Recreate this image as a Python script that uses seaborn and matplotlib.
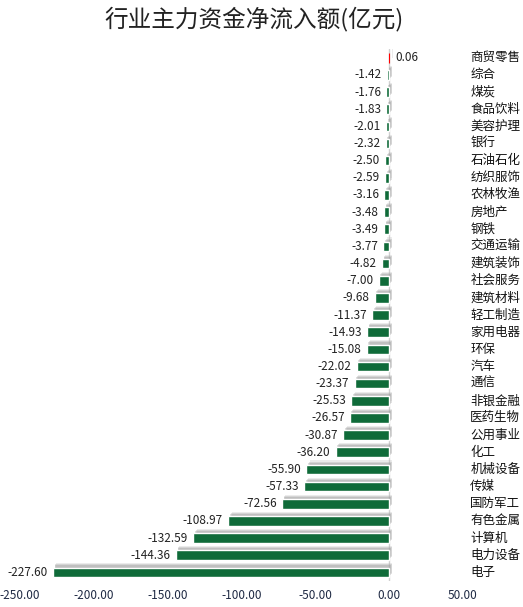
import numpy as np
import pandas as pd
import matplotlib
matplotlib.use("Agg")
import matplotlib.pyplot as plt
import matplotlib.patheffects as pe
import seaborn as sns


industries = [
    "商贸零售", "综合", "煤炭", "食品饮料", "美容护理", "银行", "石油石化",
    "纺织服饰", "农林牧渔", "房地产", "钢铁", "交通运输", "建筑装饰",
    "社会服务", "建筑材料", "轻工制造", "家用电器", "环保", "汽车", "通信",
    "非银金融", "医药生物", "公用事业", "化工", "机械设备", "传媒",
    "国防军工", "有色金属", "计算机", "电力设备", "电子"
]

net_inflow = [
    0.06, -1.42, -1.76, -1.83, -2.01, -2.32, -2.50,
    -2.59, -3.16, -3.48, -3.49, -3.77, -4.82,
    -7.00, -9.68, -11.37, -14.93, -15.08, -22.02, -23.37,
    -25.53, -26.57, -30.87, -36.20, -55.90, -57.33,
    -72.56, -108.97, -132.59, -144.36, -227.60
]

x_ticks = [-250, -200, -150, -100, -50, 0, 50]


sns.set_style("white")
plt.rcParams['font.family'] = ['Noto Sans CJK SC', 'DejaVu Sans']

df = pd.DataFrame({"industry": industries, "value": net_inflow})
df["sign"] = np.where(df["value"] >= 0, "pos", "neg")

fig = plt.figure(figsize=(5.23, 6.07), dpi=100)
ax = fig.add_axes([0.038, 0.043, 0.847, 0.876])

sns.barplot(
    data=df,
    x="value",
    y="industry",
    hue="sign",
    palette={"pos": "#ff0000", "neg": "#007a37"},
    orient="h",
    width=0.56,
    dodge=False,
    legend=False,
    ax=ax
)

# soft blurred shadow like the original
for bar in ax.patches:
    bar.set_path_effects([
        pe.SimplePatchShadow(offset=(2.5, 3), shadow_rgbFace="#b0b0b0", alpha=0.25),
        pe.SimplePatchShadow(offset=(1.8, 2.2), shadow_rgbFace="#a0a0a0", alpha=0.3),
        pe.SimplePatchShadow(offset=(1.2, 1.5), shadow_rgbFace="#909090", alpha=0.3),
        pe.Normal()
    ])
    if bar.get_width() > 0:
        # make the tiny positive bar visible
        bar.set_edgecolor("#ff0000")
        bar.set_linewidth(0.8)

ax.set_xlim(-250, 50)
ax.set_ylim(len(industries) - 0.5, -0.5)
ax.set_xticks(x_ticks)
ax.set_xticklabels([f"{t:.2f}" for t in x_ticks], fontsize=8.5, color="#1f2a44")
ax.tick_params(axis="x", length=0, pad=6)

ax.axvline(0, color="#d0d0d0", linewidth=1, zorder=0)

for s in ax.spines.values():
    s.set_visible(False)

ax.set_yticks([])
ax.set_xlabel("")
ax.set_ylabel("")

# value labels
for i, v in enumerate(net_inflow):
    if v >= 0:
        ax.text(v + 4, i, f"{v:.2f}", ha="left", va="center", fontsize=8.5, color="#222222")
    else:
        ax.text(v - 3.5, i, f"{v:.2f}", ha="right", va="center", fontsize=8.5, color="#222222")

# category labels on the right
for i, name in enumerate(industries):
    ax.text(55, i, name, ha="left", va="center", fontsize=9, color="#111111")

fig.suptitle("行业主力资金净流入额(亿元)", x=0.485, y=0.99, fontsize=17, color="#222222")

plt.savefig("out.png", dpi=100)
plt.close()
